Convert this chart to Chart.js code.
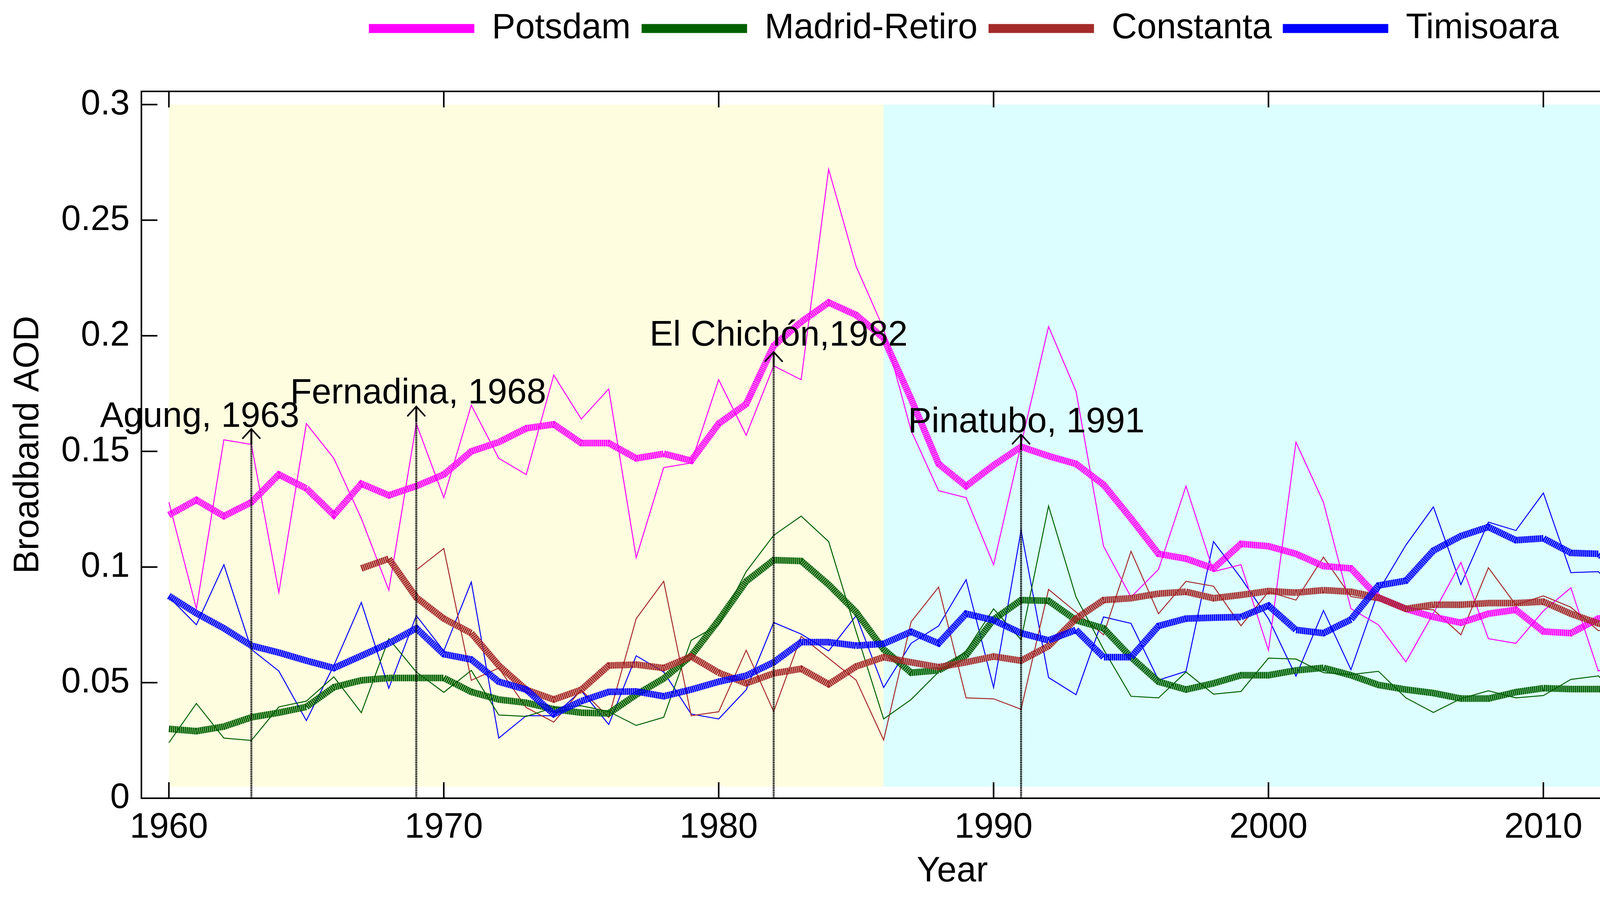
<!DOCTYPE html>
<html>
<head>
<meta charset="utf-8">
<title>Broadband AOD</title>
<script src="https://cdn.jsdelivr.net/npm/chart.js@4.4.1/dist/chart.umd.min.js"></script>
<style>
  html, body { margin: 0; padding: 0; background: #fff; overflow: hidden; }
  canvas { display: block; width: 100vw; height: 100vh; }
</style>
</head>
<body>
<canvas id="aodChart" width="4554" height="2302"></canvas>
<script>
// ---- data ----
const years = [1960, 1961, 1962, 1963, 1964, 1965, 1966, 1967, 1968, 1969,
  1970, 1971, 1972, 1973, 1974, 1975, 1976, 1977, 1978, 1979,
  1980, 1981, 1982, 1983, 1984, 1985, 1986, 1987, 1988, 1989,
  1990, 1991, 1992, 1993, 1994, 1995, 1996, 1997, 1998, 1999,
  2000, 2001, 2002, 2003, 2004, 2005, 2006, 2007, 2008, 2009,
  2010, 2011, 2012, 2013, 2014, 2015, 2016, 2017];

// yearly values (thin lines)
const potsdamAnnual = [0.128, 0.082, 0.155, 0.153, 0.089, 0.162, 0.147, 0.121, 0.090, 0.162,
  0.130, 0.170, 0.147, 0.140, 0.183, 0.164, 0.177, 0.104, 0.143, 0.145,
  0.181, 0.157, 0.187, 0.181, 0.272, 0.230, 0.203, 0.159, 0.133, 0.130,
  0.101, 0.153, 0.204, 0.176, 0.109, 0.087, 0.099, 0.135, 0.098, 0.101,
  0.064, 0.154, 0.128, 0.082, 0.075, 0.059, 0.080, 0.102, 0.069, 0.067,
  0.081, 0.091, 0.055, 0.062, 0.100, 0.090, 0.077, 0.111];
const madridAnnual = [0.024, 0.041, 0.026, 0.025, 0.0395, 0.042, 0.0525, 0.037, 0.069, 0.0546,
  0.0458, 0.0553, 0.036, 0.0354, 0.0392, 0.040, 0.0375, 0.0315, 0.035, 0.0683,
  0.075, 0.098, 0.1137, 0.122, 0.111, 0.072, 0.0343, 0.0427, 0.0546, 0.0637,
  0.0819, 0.0686, 0.1264, 0.087, 0.0644, 0.0441, 0.0434, 0.0546, 0.045, 0.0462,
  0.0606, 0.0602, 0.0543, 0.0535, 0.0549, 0.0434, 0.0371, 0.0431, 0.0465, 0.0434,
  0.0444, 0.0514, 0.0529, 0.042, 0.0455, 0.0455, 0.0521, 0.0493];
const constantaAnnual = [null, null, null, null, null, null, null, null, null, 0.0987,
  0.108, 0.051, 0.0563, 0.0392, 0.0329, 0.0469, 0.035, 0.0777, 0.0938, 0.0357,
  0.0374, 0.064, 0.0375, 0.070, 0.0605, 0.0511, 0.0252, 0.0763, 0.0913, 0.0434,
  0.043, 0.0385, 0.0903, 0.0805, 0.0707, 0.1068, 0.0798, 0.0938, 0.0917, 0.0746,
  0.0893, 0.0857, 0.1043, 0.0872, 0.0854, 0.0823, 0.0815, 0.0707, 0.0997, 0.0836,
  0.0875, 0.0826, 0.0725, 0.0728, 0.064, 0.0742, 0.0991, 0.0945];
const timisoaraAnnual = [0.087, 0.075, 0.101, 0.0644, 0.055, 0.0336, 0.0574, 0.0847, 0.0476, 0.079,
  0.0637, 0.0935, 0.026, 0.0357, 0.0357, 0.0465, 0.0319, 0.0616, 0.0546, 0.0364,
  0.0343, 0.0469, 0.076, 0.071, 0.0637, 0.079, 0.0479, 0.067, 0.0745, 0.0945,
  0.0479, 0.1158, 0.0522, 0.0448, 0.0784, 0.0756, 0.0511, 0.0549, 0.111, 0.0952,
  0.0777, 0.0528, 0.0812, 0.0556, 0.0896, 0.1095, 0.126, 0.0924, 0.1194, 0.1158,
  0.132, 0.0976, 0.098, 0.0865, 0.1165, 0.0833, 0.0605, 0.0721];

// smoothed values (thick lines)
const potsdamSmooth = [0.1225, 0.129, 0.122, 0.128, 0.140, 0.134, 0.1225, 0.136, 0.131, 0.135,
  0.140, 0.150, 0.154, 0.160, 0.1617, 0.1536, 0.1536, 0.147, 0.149, 0.146,
  0.162, 0.1705, 0.1957, 0.206, 0.2144, 0.209, 0.199, 0.1727, 0.1446, 0.135,
  0.144, 0.152, 0.148, 0.1446, 0.1356, 0.121, 0.1057, 0.1036, 0.0994, 0.110,
  0.109, 0.1057, 0.1004, 0.0994, 0.0868, 0.0819, 0.0784, 0.0759, 0.0798, 0.0815,
  0.0721, 0.0714, 0.0777, 0.0791, 0.0777, 0.0882, 0.0941, 0.0927];
const madridSmooth = [0.030, 0.029, 0.031, 0.035, 0.037, 0.0395, 0.048, 0.051, 0.052, 0.052,
  0.052, 0.046, 0.0427, 0.0413, 0.0385, 0.037, 0.0367, 0.0448, 0.0518, 0.0616,
  0.077, 0.0938, 0.103, 0.1026, 0.0924, 0.0805, 0.0644, 0.0543, 0.0553, 0.0619,
  0.0773, 0.0857, 0.0854, 0.077, 0.0735, 0.061, 0.0504, 0.047, 0.0497, 0.0532,
  0.0532, 0.0553, 0.0564, 0.0532, 0.049, 0.047, 0.0455, 0.0431, 0.0431, 0.0459,
  0.0476, 0.0472, 0.0472, 0.0476, 0.0476, 0.0472, 0.0483, 0.0487];
const constantaSmooth = [null, null, null, null, null, null, null, 0.0994, 0.1036, 0.0868,
  0.0777, 0.0714, 0.0574, 0.0469, 0.0427, 0.0469, 0.0574, 0.0578, 0.0563, 0.0613,
  0.0543, 0.0497, 0.054, 0.056, 0.0493, 0.057, 0.061, 0.0588, 0.0567, 0.0588,
  0.0613, 0.0595, 0.0658, 0.0777, 0.0857, 0.0865, 0.0885, 0.0893, 0.0865, 0.0879,
  0.0896, 0.0889, 0.090, 0.0893, 0.0868, 0.0819, 0.0837, 0.0837, 0.0844, 0.0844,
  0.085, 0.0798, 0.0756, 0.0735, 0.077, 0.0815, 0.0833, 0.0889];
const timisoaraSmooth = [0.0875, 0.080, 0.0735, 0.066, 0.063, 0.0595, 0.0563, 0.0616, 0.067, 0.0735,
  0.0623, 0.060, 0.0504, 0.047, 0.0364, 0.042, 0.046, 0.0462, 0.0441, 0.047,
  0.0504, 0.053, 0.0588, 0.0675, 0.0675, 0.066, 0.0668, 0.072, 0.067, 0.0798,
  0.077, 0.0714, 0.0683, 0.0728, 0.061, 0.061, 0.0745, 0.0777, 0.0781, 0.0784,
  0.0833, 0.0728, 0.0714, 0.0773, 0.092, 0.0941, 0.1071, 0.1134, 0.1173, 0.1116,
  0.1124, 0.1061, 0.1057, 0.0966, 0.0896, 0.0854, 0.0833, 0.0735];

const stations = ['Potsdam', 'Madrid-Retiro', 'Constanta', 'Timisoara'];

// axis ticks
const xTickValues = [1960, 1970, 1980, 1990, 2000, 2010];
const yTickValues = [0, 0.05, 0.1, 0.15, 0.2, 0.25, 0.3];

// shaded periods (years) and their vertical extent (AOD)
const periodStart = [1960, 1986];
const periodEnd = [1986, 2017];
const shadeBottom = 0.005;
const shadeTop = 0.3;

// volcanic eruptions
const eruptionNames = ['Agung, 1963', 'Fernadina, 1968', 'El Chichón,1982', 'Pinatubo, 1991'];
const eruptionYears = [1963, 1969, 1982, 1991];
const eruptionArrowTop = [0.1597, 0.1694, 0.193, 0.1573];
const eruptionLabelYear = [1961.12, 1969.07, 1982.18, 1991.19];
const eruptionLabelBase = [0.1607, 0.1708, 0.1958, 0.1583];

// ---- styles ----
const FONT = "'Liberation Sans', Arial, Helvetica, sans-serif";
const colors = ['#ff00ff', '#006000', '#a52a2a', '#0000ff'];
const periodColors = ['#fefde0', '#dcfefe'];

Chart.defaults.font.family = FONT;
Chart.defaults.color = '#000';

const annual = [potsdamAnnual, madridAnnual, constantaAnnual, timisoaraAnnual];
const smooth = [potsdamSmooth, madridSmooth, constantaSmooth, timisoaraSmooth];

const datasets = [];
stations.forEach((name, i) => {
  datasets.push({
    label: name,
    data: smooth[i],
    borderColor: colors[i],
    backgroundColor: colors[i],
    borderWidth: 17,
    borderDash: [4, 1],
    borderCapStyle: 'butt',
    pointRadius: 0,
    tension: 0,
    order: 4 - i,
  });
});
stations.forEach((name, i) => {
  datasets.push({
    label: name + ' annual',
    data: annual[i],
    borderColor: colors[i],
    backgroundColor: colors[i],
    borderWidth: 2.5,
    pointRadius: 0,
    tension: 0,
    order: 10 + i,
  });
});

// background periods, frame with inward ticks, eruption arrows
const extras = {
  id: 'extras',
  beforeLayout(chart) {
    const lg = chart.legend;
    if (lg && !lg._tall) {
      const fit = lg.fit;
      lg.fit = function () { fit.call(this); this.height = 234; };
      lg._tall = true;
    }
  },
  afterLayout(chart) {
    if (chart.legend) chart.legend.left = 421;
  },
  beforeDatasetsDraw(chart) {
    const { ctx, scales: { x, y } } = chart;
    ctx.save();
    for (let i = 0; i < periodStart.length; i++) {
      const x0 = x.getPixelForValue(periodStart[i]);
      const x1 = x.getPixelForValue(periodEnd[i]);
      const y0 = y.getPixelForValue(shadeTop);
      const y1 = y.getPixelForValue(shadeBottom);
      ctx.fillStyle = periodColors[i];
      ctx.fillRect(x0, y0, x1 - x0, y1 - y0);
    }
    ctx.restore();
  },
  afterDatasetsDraw(chart) {
    const { ctx, scales: { x, y } } = chart;
    ctx.save();
    ctx.strokeStyle = '#000';
    ctx.fillStyle = '#000';
    for (let i = 0; i < eruptionYears.length; i++) {
      const px = x.getPixelForValue(eruptionYears[i]);
      const top = y.getPixelForValue(eruptionArrowTop[i]);
      ctx.lineWidth = 5;
      ctx.setLineDash([3, 1.5]);
      ctx.beginPath();
      ctx.moveTo(px, y.getPixelForValue(0));
      ctx.lineTo(px, top + 40);
      ctx.stroke();
      ctx.setLineDash([]);
      ctx.beginPath();
      ctx.moveTo(px, top + 40);
      ctx.lineTo(px, top);
      ctx.stroke();
      ctx.lineWidth = 4;
      ctx.beginPath();
      ctx.moveTo(px - 23, top + 25);
      ctx.lineTo(px, top);
      ctx.lineTo(px + 23, top + 25);
      ctx.stroke();
      ctx.font = '90px ' + FONT;
      ctx.textAlign = 'center';
      ctx.textBaseline = 'alphabetic';
      ctx.fillText(eruptionNames[i], x.getPixelForValue(eruptionLabelYear[i]), y.getPixelForValue(eruptionLabelBase[i]));
    }
    ctx.restore();
  },
  afterDraw(chart) {
    const { ctx, chartArea: a, scales: { x, y } } = chart;
    const tl = 41;
    ctx.save();
    ctx.strokeStyle = '#000';
    ctx.lineWidth = 4;
    ctx.strokeRect(a.left, a.top, a.right - a.left, a.bottom - a.top);
    ctx.beginPath();
    yTickValues.forEach(v => {
      const py = y.getPixelForValue(v);
      ctx.moveTo(a.left, py); ctx.lineTo(a.left + tl, py);
      ctx.moveTo(a.right, py); ctx.lineTo(a.right - tl, py);
    });
    xTickValues.forEach(v => {
      const px = x.getPixelForValue(v);
      ctx.moveTo(px, a.bottom); ctx.lineTo(px, a.bottom - tl);
      ctx.moveTo(px, a.top); ctx.lineTo(px, a.top + tl);
    });
    ctx.stroke();
    ctx.restore();
  }
};

new Chart(document.getElementById('aodChart'), {
  type: 'line',
  data: { labels: years, datasets: datasets },
  options: {
    responsive: false,
    animation: false,
    devicePixelRatio: 1,
    layout: { padding: { left: 0, right: 40, top: 0, bottom: 0 } },
    plugins: {
      tooltip: { enabled: false },
      legend: {
        position: 'top',
        labels: {
          boxWidth: 270,
          boxHeight: 23,
          padding: 28,
          color: '#000',
          font: { size: 90, family: FONT },
          generateLabels: (chart) => stations.map((name, i) => ({
            text: name,
            fillStyle: colors[i],
            strokeStyle: colors[i],
            lineWidth: 0,
            hidden: false,
            datasetIndex: i,
          })),
        },
      },
    },
    scales: {
      x: {
        type: 'linear',
        min: 1959,
        max: 2018,
        grid: { display: false, drawTicks: false },
        border: { display: false },
        afterBuildTicks: (s) => { s.ticks = xTickValues.map(v => ({ value: v })); },
        afterFit: (s) => { s.height = 258; },
        ticks: {
          padding: 22,
          maxRotation: 0,
          autoSkip: false,
          font: { size: 90 },
          callback: (v) => String(v),
        },
        title: { display: true, text: 'Year', font: { size: 90 }, padding: { top: 0, bottom: 16 } },
      },
      y: {
        min: 0,
        max: 0.3057,
        grid: { display: false, drawTicks: false },
        border: { display: false },
        afterBuildTicks: (s) => { s.ticks = yTickValues.map(v => ({ value: v })); },
        afterFit: (s) => { s.width = 362; },
        ticks: {
          padding: 30,
          font: { size: 90 },
          callback: (v) => String(+v.toFixed(2)),
        },
        title: { display: true, text: 'Broadband AOD', font: { size: 90 }, padding: { top: 19, bottom: 0 } },
      },
    },
  },
  plugins: [extras],
});
</script>
</body>
</html>
